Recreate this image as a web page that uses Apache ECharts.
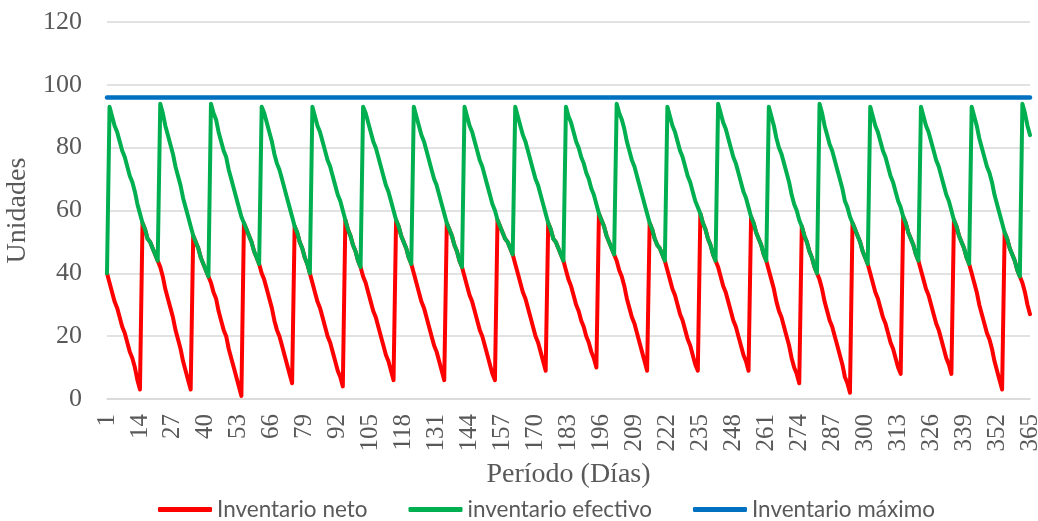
<!DOCTYPE html>
<html>
<head>
<meta charset="utf-8">
<script src="https://cdn.jsdelivr.net/npm/echarts@6/dist/echarts.min.js"></script>
<style>
  html, body { margin: 0; padding: 0; background: #ffffff; }
  #chart { width: 1038px; height: 521px; }
</style>
</head>
<body>
<div id="chart"></div>
<script>
// Simulación de inventario diario (365 días), revisión periódica cada 20 días
const totalDias = 365;
const dias = [];
for (let d = 1; d <= totalDias; d++) dias.push(String(d));

// Inventario neto (existencias físicas), un valor por día
const inventarioNeto = [
  40,
  37, 34, 31, 29, 26, 23, 21, 18, 15, 13, 10, 6, 3, 56, 54, 51, 50, 48, 46, 44,
  42, 39, 35, 32, 29, 26, 22, 19, 16, 12, 9, 6, 3, 52, 50, 48, 45, 43, 41, 39,
  37, 34, 32, 28, 25, 22, 20, 16, 13, 10, 7, 4, 1, 56, 54, 52, 50, 47, 45, 43,
  40, 38, 35, 32, 29, 25, 22, 20, 17, 14, 11, 8, 5, 55, 53, 50, 48, 45, 43, 40,
  37, 34, 31, 29, 26, 23, 20, 18, 15, 12, 9, 7, 4, 57, 54, 52, 49, 47, 44, 42,
  39, 37, 34, 31, 28, 26, 23, 20, 17, 14, 12, 9, 6, 57, 55, 52, 50, 48, 45, 43,
  40, 37, 34, 31, 29, 26, 23, 20, 17, 15, 12, 9, 6, 56, 54, 52, 49, 47, 44, 42,
  39, 36, 33, 31, 28, 25, 22, 20, 17, 14, 11, 8, 6, 57, 55, 53, 51, 50, 48, 46,
  43, 40, 37, 34, 32, 29, 26, 23, 20, 18, 15, 12, 9, 56, 54, 51, 50, 48, 46, 44,
  41, 38, 36, 33, 30, 28, 25, 23, 20, 18, 15, 13, 10, 59, 57, 55, 52, 50, 48, 46,
  44, 41, 39, 36, 32, 29, 26, 24, 21, 18, 15, 12, 9, 56, 54, 51, 49, 48, 46, 44,
  41, 38, 35, 33, 30, 27, 25, 22, 19, 17, 14, 11, 9, 59, 56, 54, 51, 49, 46, 44,
  42, 39, 36, 34, 31, 28, 25, 23, 20, 17, 14, 12, 9, 58, 56, 53, 51, 49, 46, 44,
  41, 38, 35, 31, 28, 26, 23, 20, 17, 13, 10, 8, 5, 55, 52, 50, 47, 45, 42, 40,
  38, 35, 31, 28, 25, 23, 20, 17, 14, 11, 7, 5, 2, 56, 54, 52, 50, 47, 45, 43,
  40, 37, 34, 32, 29, 26, 24, 21, 18, 16, 13, 10, 8, 58, 56, 53, 51, 49, 46, 44,
  41, 38, 35, 33, 30, 27, 24, 22, 19, 16, 13, 11, 8, 57, 55, 52, 50, 48, 45, 43,
  40, 37, 34, 30, 27, 24, 21, 19, 16, 12, 9, 6, 3, 53, 51, 48, 46, 44, 41, 39,
  37, 34, 30, 27
];

// Inventario efectivo (neto + pedidos en tránsito), un valor por día
const inventarioEfectivo = [
  40,
  93, 90, 87, 85, 82, 79, 77, 74, 71, 69, 66, 62, 59, 56, 54, 51, 50, 48, 46, 44,
  94, 91, 87, 84, 81, 78, 74, 71, 68, 64, 61, 58, 55, 52, 50, 48, 45, 43, 41, 39,
  94, 91, 89, 85, 82, 79, 77, 73, 70, 67, 64, 61, 58, 56, 54, 52, 50, 47, 45, 43,
  93, 91, 88, 85, 82, 78, 75, 73, 70, 67, 64, 61, 58, 55, 53, 50, 48, 45, 43, 40,
  93, 90, 87, 85, 82, 79, 76, 74, 71, 68, 65, 63, 60, 57, 54, 52, 49, 47, 44, 42,
  93, 91, 88, 85, 82, 80, 77, 74, 71, 68, 66, 63, 60, 57, 55, 52, 50, 48, 45, 43,
  93, 90, 87, 84, 82, 79, 76, 73, 70, 68, 65, 62, 59, 56, 54, 52, 49, 47, 44, 42,
  93, 90, 87, 85, 82, 79, 76, 74, 71, 68, 65, 62, 60, 57, 55, 53, 51, 50, 48, 46,
  93, 90, 87, 84, 82, 79, 76, 73, 70, 68, 65, 62, 59, 56, 54, 51, 50, 48, 46, 44,
  93, 90, 88, 85, 82, 80, 77, 75, 72, 70, 67, 65, 62, 59, 57, 55, 52, 50, 48, 46,
  94, 91, 89, 86, 82, 79, 76, 74, 71, 68, 65, 62, 59, 56, 54, 51, 49, 48, 46, 44,
  93, 90, 87, 85, 82, 79, 77, 74, 71, 69, 66, 63, 61, 59, 56, 54, 51, 49, 46, 44,
  94, 91, 88, 86, 83, 80, 77, 75, 72, 69, 66, 64, 61, 58, 56, 53, 51, 49, 46, 44,
  93, 90, 87, 83, 80, 78, 75, 72, 69, 65, 62, 60, 57, 55, 52, 50, 47, 45, 42, 40,
  94, 91, 87, 84, 81, 79, 76, 73, 70, 67, 63, 61, 58, 56, 54, 52, 50, 47, 45, 43,
  93, 90, 87, 85, 82, 79, 77, 74, 71, 69, 66, 63, 61, 58, 56, 53, 51, 49, 46, 44,
  93, 90, 87, 85, 82, 79, 76, 74, 71, 68, 65, 63, 60, 57, 55, 52, 50, 48, 45, 43,
  93, 90, 87, 83, 80, 77, 74, 72, 69, 65, 62, 59, 56, 53, 51, 48, 46, 44, 41, 39,
  94, 91, 87, 84
];

// Nivel máximo de inventario (constante)
const inventarioMaximo = 96;

// Escala del eje vertical
const yMin = 0, yMax = 120, yPaso = 20;

const textoGris = '#595959';
const rejilla = '#d9d9d9';
const serif = '"Liberation Serif", "Times New Roman", serif';

const chart = echarts.init(document.getElementById('chart'), null, { renderer: 'canvas' });

chart.setOption({
  animation: false,
  backgroundColor: '#ffffff',
  grid: { left: 107, right: 8, top: 22, bottom: 122, containLabel: false, outerBoundsMode: 'none' },
  legend: {
    bottom: 0,
    left: 158,
    padding: 0,
    itemWidth: 54,
    itemHeight: 5,
    itemGap: 41,
    icon: 'roundRect',
    textStyle: { color: textoGris, fontSize: 22.5, fontFamily: 'Lato, "Open Sans", sans-serif' },
    data: ['Inventario neto', 'inventario efectivo', 'Inventario máximo']
  },
  xAxis: {
    type: 'category',
    data: dias,
    boundaryGap: false,
    axisTick: { show: false },
    axisLine: { show: true, lineStyle: { color: rejilla, width: 1.5 } },
    axisLabel: {
      interval: 12,
      rotate: 90,
      margin: 15,
      color: textoGris,
      fontSize: 25,
      fontFamily: serif
    },
    splitLine: { show: false },
    name: 'Período (Días)',
    nameLocation: 'middle',
    nameGap: 62,
    nameTextStyle: { color: textoGris, fontSize: 28, fontFamily: serif }
  },
  yAxis: {
    type: 'value',
    min: yMin,
    max: yMax,
    interval: yPaso,
    axisLine: { show: false },
    axisTick: { show: false },
    axisLabel: { color: textoGris, fontSize: 26, fontFamily: serif, margin: 25 },
    splitLine: { show: true, lineStyle: { color: rejilla, width: 1.5 } },
    name: 'Unidades',
    nameLocation: 'middle',
    nameGap: 67,
    nameTextStyle: { color: textoGris, fontSize: 28, fontFamily: serif }
  },
  series: [
    {
      name: 'Inventario neto',
      type: 'line',
      data: inventarioNeto,
      symbol: 'none',
      itemStyle: { color: '#ff0000' },
      lineStyle: { color: '#ff0000', width: 4, cap: 'round', join: 'round' }
    },
    {
      name: 'inventario efectivo',
      type: 'line',
      data: inventarioEfectivo,
      symbol: 'none',
      itemStyle: { color: '#00b050' },
      lineStyle: { color: '#00b050', width: 4, cap: 'round', join: 'round' }
    },
    {
      name: 'Inventario máximo',
      type: 'line',
      data: [[dias[0], inventarioMaximo], [dias[dias.length - 1], inventarioMaximo]],
      symbol: 'none',
      itemStyle: { color: '#0070c0' },
      lineStyle: { color: '#0070c0', width: 4.5, cap: 'round', join: 'round' }
    }
  ]
});
</script>
</body>
</html>
